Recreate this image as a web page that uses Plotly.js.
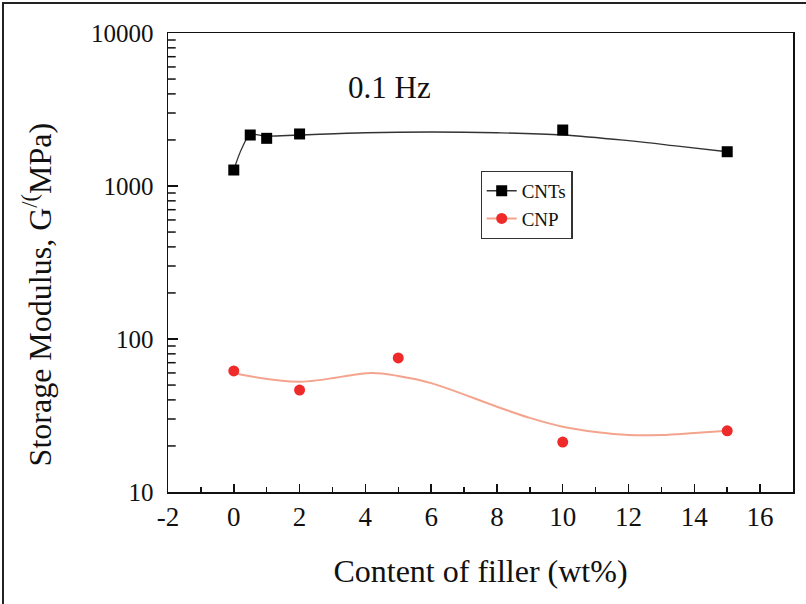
<!DOCTYPE html>
<html>
<head>
<meta charset="utf-8">
<script src="https://cdn.plot.ly/plotly-3.0.1.min.js"></script>
<style>
  html, body { margin: 0; padding: 0; background: #ffffff; }
  #frame { position: absolute; left: 2px; top: 2px; width: 804px; height: 602px;
           border-left: 2px solid #222; border-top: 2px solid #222; box-sizing: border-box; }
  #chart { position: absolute; left: 0; top: 0; width: 806px; height: 604px; }
</style>
</head>
<body>
<div id="frame"></div>
<div id="chart"></div>
<script>
// ---- data ----
const cntX = [0, 0.5, 1, 2, 10, 15];
const cntY = [1272, 2154, 2049, 2188, 2322, 1675];

const cnpX = [0, 2, 5, 10, 15];
const cnpY = [61.8, 46.4, 75.2, 21.2, 25.1];

// smooth fitted curves as drawn in the figure
const cntFitX = [0, 0.25, 0.5, 1, 2, 4, 6, 8, 10, 12, 13.5, 15];
const cntFitY = [1272, 1771, 2154, 2120, 2154, 2229, 2254, 2229, 2154, 1977, 1823, 1675];

const cnpFitX = [0, 2, 4.2, 5, 6, 8, 9, 10, 11, 12, 13, 14, 15];
const cnpFitY = [59.7, 52.6, 60.0, 57.3, 51.5, 36.1, 30.5, 26.7, 24.7, 23.6, 23.6, 24.3, 25.1];

const xRange = [-2, 17];
const xTickVals = [-2, 0, 2, 4, 6, 8, 10, 12, 14, 16];
const xTickText = ["-2", "0", "2", "4", "6", "8", "10", "12", "14", "16"];
const xMinorVals = [-1, 1, 3, 5, 7, 9, 11, 13, 15];

const yMajorVals = [10, 100, 1000, 10000];
const yMajorText = ["10", "100", "1000", "10000"];
const decades = [10, 100, 1000];
const minorMult = [2, 3, 4, 5, 6, 7, 8, 9];
const yMinorVals = [];
decades.forEach(d => minorMult.forEach(m => yMinorVals.push(d * m)));

const serif = "Liberation Serif, Times New Roman, serif";

const traces = [
  // minor ticks of the log axis (Plotly has no minor ticks on log axes):
  // short horizontal dashes on the left axis line, outer half clipped by the plot area
  { x: yMinorVals.map(() => xRange[0]), y: yMinorVals, mode: "markers", cliponaxis: true,
    marker: { symbol: "line-ew", size: 11, line: { width: 1.5, color: "#111" } },
    showlegend: false, hoverinfo: "skip" },
  { x: cntFitX, y: cntFitY, mode: "lines", line: { shape: "spline", color: "#333333", width: 1.3 },
    showlegend: false, hoverinfo: "skip" },
  { x: cnpFitX, y: cnpFitY, mode: "lines", line: { shape: "spline", color: "#f4a48c", width: 2 },
    showlegend: false, hoverinfo: "skip" },
  { x: cntX, y: cntY, mode: "markers", name: "CNTs",
    marker: { symbol: "square", size: 11, color: "#000000" }, showlegend: false },
  { x: cnpX, y: cnpY, mode: "markers", name: "CNP",
    marker: { symbol: "circle", size: 11, color: "#ee2a2a" }, showlegend: false },
  // legend entries
  { x: [null], y: [null], mode: "lines+markers", name: "CNTs",
    line: { color: "#333333", width: 1.3 }, marker: { symbol: "square", size: 11, color: "#000000" } },
  { x: [null], y: [null], mode: "lines+markers", name: "CNP",
    line: { color: "#f4a48c", width: 2 }, marker: { symbol: "circle", size: 11, color: "#ee2a2a" } }
];

const layout = {
  width: 806, height: 604,
  margin: { l: 168, r: 13, t: 33, b: 112 },
  paper_bgcolor: "rgba(0,0,0,0)",
  plot_bgcolor: "#ffffff",
  font: { family: serif, color: "#111111" },
  showlegend: true,
  legend: {
    x: 0.50, y: 0.70, xanchor: "left", yanchor: "top",
    bordercolor: "#333333", borderwidth: 1.2, bgcolor: "#ffffff",
    font: { family: serif, size: 19, color: "#111111" },
    tracegroupgap: 0
  },
  xaxis: {
    range: xRange, tickmode: "array", tickvals: xTickVals, ticktext: xTickText,
    ticks: "inside", ticklen: 8, tickwidth: 1.5, tickcolor: "#111",
    minor: { tickmode: "array", tickvals: xMinorVals, ticks: "inside", ticklen: 5, tickwidth: 1.5, tickcolor: "#111", showgrid: false },
    showline: true, linecolor: "#111", linewidth: 1.5, mirror: true,
    showgrid: false, zeroline: false,
    tickfont: { family: serif, size: 27, color: "#111" },
    title: { text: "Content of filler (wt%)", font: { family: serif, size: 32, color: "#111" }, standoff: 28 }
  },
  yaxis: {
    type: "log", range: [1, 4],
    tickmode: "array", tickvals: yMajorVals, ticktext: yMajorText,
    ticks: "inside", ticklen: 10, tickwidth: 1.5, tickcolor: "#111",
    showline: true, linecolor: "#111", linewidth: 1.5, mirror: true,
    showgrid: false, zeroline: false,
    ticklabelstandoff: 8,
    tickfont: { family: serif, size: 25, color: "#111" }
  },
  annotations: [
    { text: "Storage Modulus, G<sup>/(</sup>MPa)", xref: "paper", yref: "paper",
      x: -0.21, y: 0.43, xanchor: "center", yanchor: "middle", textangle: -90, showarrow: false,
      font: { family: serif, size: 32, color: "#111" } },
    { text: "0.1 Hz", xref: "paper", yref: "paper", x: 0.355, y: 0.882,
      xanchor: "center", yanchor: "middle", showarrow: false,
      font: { family: serif, size: 31, color: "#111" } }
  ]
};

Plotly.newPlot("chart", traces, layout, { displayModeBar: false, staticPlot: true });
</script>
</body>
</html>
